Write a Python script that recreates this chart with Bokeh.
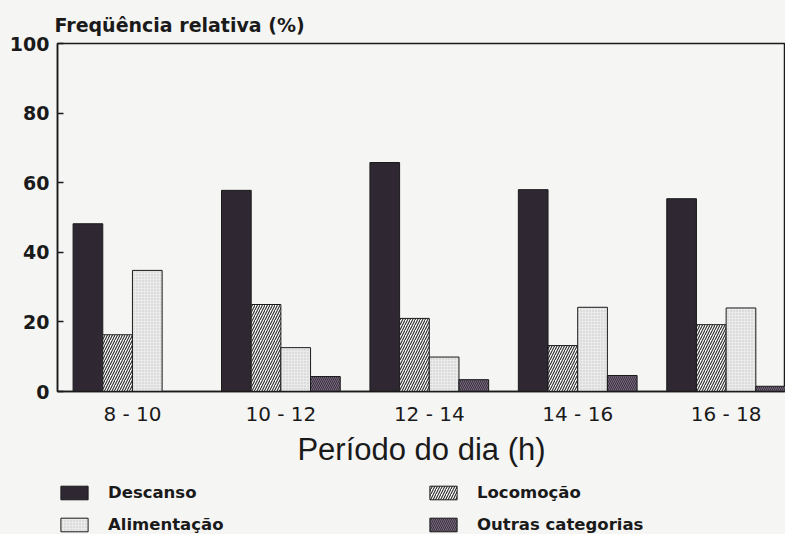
from bokeh.plotting import figure
from bokeh.layouts import column
from bokeh.models import ColumnDataSource, FixedTicker, Legend, LegendItem, Range1d
from bokeh.transform import dodge
from bokeh.embed import file_html
from bokeh.resources import INLINE

periods = ["8 - 10", "10 - 12", "12 - 14", "14 - 16", "16 - 18"]
descanso = [48.2, 57.8, 65.8, 58.0, 55.4]
locomocao = [16.3, 25.0, 21.0, 13.2, 19.2]
alimentacao = [34.8, 12.6, 9.9, 24.2, 24.0]
outras = [0.0, 4.3, 3.4, 4.6, 1.5]
y_ticks = [0, 20, 40, 60, 80, 100]

FONT = "Liberation Sans"
WIDE = "DejaVu Sans"
BG = "#f5f5f4"
INK = "#1a1a1a"

STYLES = {
    "descanso": dict(fill_color="#2f2832"),
    "locomocao": dict(fill_color="#ffffff", hatch_pattern="/", hatch_color="#2a2a2a",
                      hatch_scale=5, hatch_weight=1.1),
    "alimentacao": dict(fill_color="#ebebeb", hatch_pattern=".", hatch_color="#c2c2c2",
                        hatch_scale=3, hatch_weight=1),
    "outras": dict(fill_color="#776a7c", hatch_pattern="\\", hatch_color="#3a3040",
                   hatch_scale=4, hatch_weight=1),
}

src = ColumnDataSource(dict(
    x=list(range(len(periods))),
    descanso=descanso, locomocao=locomocao,
    alimentacao=alimentacao, outras=outras,
))

LEG_H = 64
MAIN_H = 534 - LEG_H
p = figure(width=785, height=MAIN_H, output_backend="svg", toolbar_location=None,
           x_range=Range1d(-0.505, 4.40), y_range=Range1d(0, 100),
           min_border_left=57, min_border_right=0, min_border_top=43,
           min_border_bottom=MAIN_H - 391)
p.background_fill_color = BG
p.border_fill_color = BG
p.outline_line_color = INK
p.outline_line_width = 1.5
p.xgrid.visible = False
p.ygrid.visible = False

p.title.text = "Freqüência relativa (%)"
p.title.text_font = WIDE
p.title.text_font_style = "bold"
p.title.text_font_size = "19px"
p.title.text_color = INK
p.title.align = "left"
p.title.offset = -3
p.title.standoff = 15

W = 0.2
offsets = {"descanso": -0.3, "locomocao": -0.1, "alimentacao": 0.1, "outras": 0.3}
for key, off in offsets.items():
    p.vbar(x=dodge("x", off), top=key, width=W, source=src,
           line_color=INK, line_width=1, **STYLES[key])

# axes
p.yaxis.ticker = FixedTicker(ticks=y_ticks)
p.yaxis.major_tick_in = 6
p.yaxis.major_tick_out = 0
p.yaxis.minor_tick_line_color = None
p.yaxis.axis_line_width = 1.5
p.yaxis.axis_line_color = INK
p.yaxis.major_tick_line_width = 1.5
p.yaxis.major_tick_line_color = INK
p.yaxis.major_label_text_font = WIDE
p.yaxis.major_label_text_font_style = "bold"
p.yaxis.major_label_text_font_size = "19px"
p.yaxis.major_label_text_color = INK
p.yaxis.major_label_standoff = 8

p.xaxis.ticker = FixedTicker(ticks=list(range(len(periods))))
p.xaxis.major_label_overrides = {i: lab for i, lab in enumerate(periods)}
p.xaxis.major_tick_in = 0
p.xaxis.major_tick_out = 0
p.xaxis.minor_tick_line_color = None
p.xaxis.axis_line_width = 1.5
p.xaxis.axis_line_color = INK
p.xaxis.major_label_text_font = WIDE
p.xaxis.major_label_text_font_size = "20px"
p.xaxis.major_label_text_color = INK
p.xaxis.major_label_standoff = 10
p.xaxis.axis_label = "Período do dia (h)"
p.xaxis.axis_label_text_font = FONT
p.xaxis.axis_label_text_font_style = "normal"
p.xaxis.axis_label_text_font_size = "31px"
p.xaxis.axis_label_text_color = INK
p.xaxis.axis_label_standoff = 3

# legend strip below the chart (its frame is aligned with the chart's frame)
leg = figure(width=785, height=LEG_H, output_backend="svg", toolbar_location=None,
             x_range=Range1d(0, 728), y_range=Range1d(0, LEG_H),
             x_axis_location=None, y_axis_location=None,
             min_border=0, min_border_left=57, min_border_right=0,
             min_border_top=0, min_border_bottom=0)
leg.grid.visible = False
leg.outline_line_color = None
leg.background_fill_color = BG
leg.border_fill_color = BG

# legend-only proxies (zero-height, outside the visible range)
proxy = ColumnDataSource(dict(x=[-100], top=[0]))
legend_items = [
    ("Descanso", "descanso", (0, 32)),
    ("Alimentação", "alimentacao", (0, 0)),
    ("Locomoção", "locomocao", (369, 32)),
    ("Outras categorias", "outras", (369, 0)),
]
for label, key, loc in legend_items:
    r = leg.vbar(x="x", top="top", width=1, source=proxy, line_color=INK, line_width=1,
                 **STYLES[key])
    lg = Legend(items=[LegendItem(label=label, renderers=[r])], location=loc,
                padding=0, margin=0, border_line_color=None, background_fill_alpha=0,
                glyph_width=34, glyph_height=17, label_standoff=17, label_height=17,
                label_text_font=WIDE, label_text_font_style="bold",
                label_text_font_size="16.5px", label_text_color=INK)
    leg.add_layout(lg, "center")

layout = column(p, leg, spacing=0, styles={"background-color": BG})
open("out.html", "w").write(file_html(layout, INLINE))
